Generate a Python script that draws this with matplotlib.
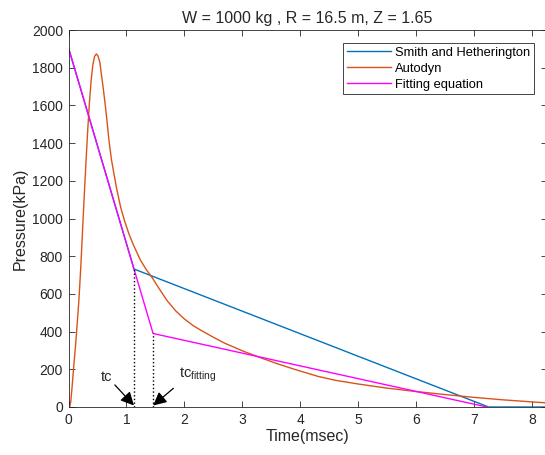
import matplotlib
matplotlib.use("Agg")
import matplotlib.pyplot as plt

plt.rcParams['font.family'] = ['Liberation Sans', 'DejaVu Sans']
plt.rcParams['mathtext.fontset'] = 'custom'
plt.rcParams['mathtext.rm'] = 'Liberation Sans'
plt.rcParams['mathtext.it'] = 'Liberation Sans'

# Smith and Hetherington (bilinear)
smith_t = [0, 1.13, 7.25, 8.3]
smith_p = [1905, 732, 0, 0]

# Autodyn
auto_t = [0, 0.02, 0.04, 0.06, 0.09, 0.12, 0.15, 0.18, 0.21, 0.24, 0.27, 0.30,
          0.33, 0.36, 0.39, 0.42, 0.45, 0.48, 0.51, 0.54, 0.57, 0.60, 0.638,
          0.66, 0.70, 0.74, 0.78, 0.83, 0.90, 0.97, 1.04, 1.12, 1.24, 1.34,
          1.44, 1.56, 1.7, 1.85, 2.0, 2.15, 2.28, 2.5, 2.7, 3.0, 3.3, 3.6, 3.9,
          4.3, 4.6, 5.0, 5.5, 6.0, 6.5, 7.0, 7.5, 8.0, 8.3]
auto_p = [0, 0, 30, 100, 214, 320, 440, 570, 730, 920, 1110, 1290,
          1460, 1610, 1730, 1815, 1860, 1873, 1862, 1830, 1760, 1690, 1593,
          1530, 1410, 1315, 1245, 1160, 1060, 985, 921, 860, 780, 730,
          688, 630, 565, 510, 467, 432, 408, 370, 338, 298, 263, 230, 200,
          163, 142, 122, 100, 82, 66, 51, 38, 27, 21]

# Fitting equation
fit_t = [0, 1.46, 7.22]
fit_p = [1905, 390, 0]

tc = 1.13
tc_p = 732
tc_fit = 1.46
tc_fit_p = 390

fig = plt.figure(figsize=(5.45, 4.55), dpi=100)
ax = fig.add_axes([68.5/545, 48/455, (546.5-68.5)/545, 377/455])

ax.plot(smith_t, smith_p, color='#0072BD', lw=1.0, label='Smith and Hetherington')
ax.plot(auto_t, auto_p, color='#D95319', lw=1.0, label='Autodyn')
ax.plot(fit_t, fit_p, color='#FF00FF', lw=1.0, label='Fitting equation')

ax.plot([tc, tc], [0, tc_p], color='k', ls=':', lw=1.0)
ax.plot([tc_fit, tc_fit], [0, tc_fit_p], color='k', ls=':', lw=1.0)

arrow = dict(arrowstyle='-|>', color='k', lw=0.9, mutation_scale=20, shrinkA=0, shrinkB=0)
ax.annotate('', xy=(1.13, 8), xytext=(0.80, 117), arrowprops=arrow)
ax.annotate('', xy=(1.46, 8), xytext=(1.81, 99), arrowprops=arrow)
ax.text(0.66, 161, 'tc', fontsize=10.5, ha='center', va='center', color='#262626')
ax.text(1.9, 170, r'tc$_{\mathrm{fitting}}$', fontsize=10.5, ha='left', va='center', color='#262626')

ax.set_xlim(0, 8.25)
ax.set_ylim(0, 2000)
ax.set_xticks(range(0, 9))
ax.set_yticks(range(0, 2001, 200))
ax.tick_params(direction='in', top=True, right=True, length=4, width=0.6,
               labelsize=10, colors='#262626', pad=4)
for s in ax.spines.values():
    s.set_color('#262626')
    s.set_linewidth(0.6)

ax.set_xlabel('Time(msec)', fontsize=11.5, color='#262626', labelpad=2)
ax.set_ylabel('Pressure(kPa)', fontsize=11.5, color='#262626', labelpad=3)
ax.set_title('W = 1000 kg , R = 16.5 m, Z = 1.65', fontsize=11.5, color='#262626', pad=5)

leg = ax.legend(loc='upper right', bbox_to_anchor=(0.974, 0.966), borderaxespad=0,
                fontsize=9.3, handlelength=3.4, handletextpad=0.3, labelspacing=0.3,
                fancybox=False, framealpha=1, edgecolor='#262626', borderpad=0.3)
leg.get_frame().set_linewidth(0.6)

fig.savefig('out.png', dpi=100)
